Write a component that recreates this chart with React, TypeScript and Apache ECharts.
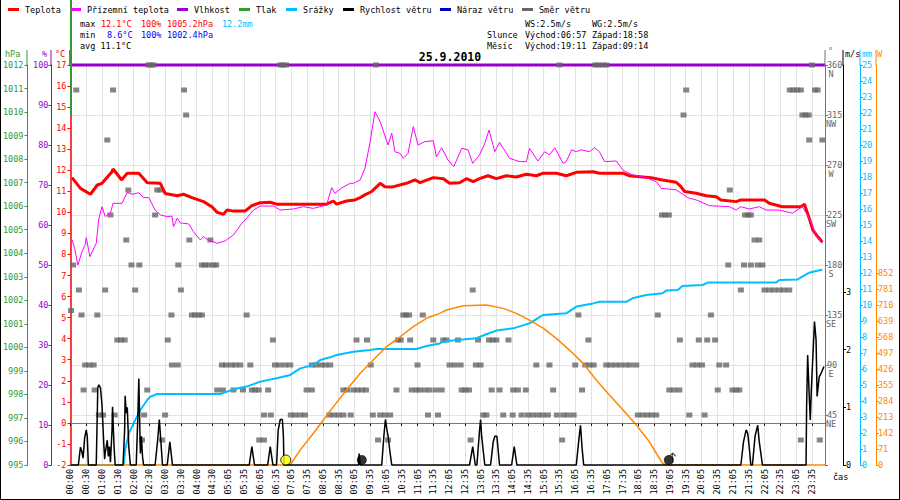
import React, { useEffect, useRef } from 'react';
import * as echarts from 'echarts';

const FONT = '"DejaVu Sans Mono", "Liberation Mono", monospace';

// ---------- data ----------
const xLabels = ["00:00","00:30","01:00","01:30","02:00","02:30","03:00","03:30","04:00","04:30",
  "05:05","05:35","06:05","06:35","07:05","07:35","08:05","08:35","09:05","09:35","10:05","10:35",
  "11:05","11:35","12:05","12:35","13:05","13:35","14:05","14:35","15:05","15:35","16:05","16:35",
  "17:05","17:35","18:05","18:35","19:05","19:35","20:05","20:35","21:05","21:35","22:05","22:35",
  "23:05","23:35"];

// temperature [minute, °C]
const temperature = [[3,11.65],[19,11.14],[38,10.86],[51,11.3],[60,11.38],[79,11.93],[81,12.06],[89,11.81],[97,11.54],[108,11.86],[130,11.86],[146,11.41],[171,11.38],[180,10.9],[203,10.79],[215,10.86],[231,10.70],[253,10.51],[269,10.27],[279,10.0],[291,9.91],[298,10.11],[310,10.06],[332,10.06],[345,10.32],[361,10.46],[380,10.48],[392,10.39],[487,10.39],[500,10.54],[506,10.39],[525,10.54],[541,10.59],[551,10.70],[560,10.83],[573,10.99],[589,11.38],[598,11.22],[611,11.2],[639,11.38],[655,11.54],[665,11.41],[690,11.65],[709,11.6],[721,11.38],[740,11.41],[753,11.6],[766,11.46],[778,11.6],[794,11.74],[810,11.6],[829,11.74],[848,11.68],[867,11.81],[886,11.74],[899,11.86],[924,11.86],[943,11.74],[962,11.9],[994,11.93],[1006,11.86],[1051,11.86],[1063,11.74],[1104,11.65],[1126,11.54],[1152,11.43],[1161,11.22],[1168,10.99],[1190,10.91],[1209,10.79],[1228,10.74],[1237,10.59],[1266,10.51],[1275,10.59],[1320,10.59],[1329,10.43],[1354,10.27],[1389,10.27],[1396,10.39],[1405,9.72],[1412,9.16],[1421,8.85],[1430,8.58]];

// feels-like temperature [minute, °C]
const feelsLike = [[3,8.69],[8,8.29],[14,7.5],[22,8.13],[28,8.48],[30,8.8],[37,7.9],[49,8.53],[54,9.72],[60,10.27],[66,9.8],[76,9.96],[81,10.43],[98,10.43],[108,10.95],[117,10.86],[130,10.93],[139,10.70],[149,10.7],[161,10.11],[171,9.88],[184,9.8],[193,9.82],[196,9.32],[203,9.72],[209,9.5],[225,9.45],[234,9.08],[247,8.69],[253,8.85],[260,8.72],[279,8.53],[294,8.64],[310,8.93],[326,9.48],[335,9.72],[348,10.11],[361,10.3],[386,10.3],[399,10.11],[424,10.16],[443,10.27],[462,10.19],[487,10.35],[497,11.17],[503,10.9],[516,11.17],[532,11.38],[538,11.38],[551,11.54],[560,12.09],[570,13.36],[579,14.78],[589,14.31],[604,13.2],[611,13.76],[617,12.88],[627,12.8],[633,12.57],[642,12.8],[652,14.07],[661,13.2],[674,13.36],[690,13.4],[696,12.64],[706,13.07],[718,12.49],[729,12.17],[744,13.04],[756,12.97],[765,12.33],[778,12.73],[788,13.28],[796,13.91],[807,12.88],[816,13.33],[835,12.57],[854,12.41],[867,12.41],[873,13.04],[889,12.44],[902,12.88],[911,12.73],[921,13.07],[937,12.33],[943,12.41],[953,12.97],[962,12.88],[971,12.97],[987,12.88],[997,13.07],[1006,12.88],[1016,12.41],[1038,12.44],[1051,12.0],[1069,11.78],[1095,11.65],[1114,11.46],[1124,11.14],[1152,11.07],[1174,10.7],[1190,10.59],[1215,10.32],[1253,10.27],[1266,10.11],[1275,10.27],[1291,10.16],[1310,10.27],[1323,10.11],[1348,10.11],[1373,9.96],[1392,10.27],[1405,9.72],[1418,8.93],[1430,8.53]];

// humidity [minute, %]
const humidity = [[0,100],[1435,100]];

// cumulative precipitation [minute, mm]
const precipitation = [[0,0],[101,0],[104,0.94],[111,1.98],[120,2.6],[133,3.44],[146,4.06],[152,4.27],[165,4.44],[285,4.44],[310,4.73],[335,4.9],[361,5.21],[392,5.42],[418,5.63],[437,6.04],[462,6.25],[475,6.56],[494,6.73],[506,6.88],[538,7.08],[570,7.19],[582,7.25],[658,7.25],[677,7.44],[702,7.6],[709,7.71],[734,7.81],[772,7.92],[792,8.19],[810,8.4],[842,8.54],[873,8.85],[899,9.38],[943,9.48],[962,9.9],[994,10.1],[1006,10.2],[1057,10.2],[1069,10.42],[1095,10.63],[1126,10.73],[1133,10.9],[1155,10.94],[1164,11.19],[1202,11.25],[1212,11.4],[1342,11.4],[1348,11.56],[1383,11.6],[1392,11.77],[1405,12.02],[1418,12.13],[1430,12.2]];

// solar radiation [minute, W]
const solar = [[0,0],[418,0],[437,67],[462,141],[481,200],[500,259],[525,333],[551,407],[576,466],[601,525],[627,569],[652,614],[677,651],[702,673],[715,688],[747,707],[791,710],[823,695],[848,673],[873,643],[899,607],[924,562],[949,510],[975,451],[1000,377],[1025,311],[1051,244],[1076,178],[1101,103],[1120,30],[1126,8],[1133,0],[1435,0]];

// wind speed [minute, m/s]
const windSpeed = [[0,0],[15,0],[19,0.31],[22,0.22],[24,0.12],[27,0.47],[30,0.61],[32,0.49],[34,0],
  [49,0],[52,1.35],[54,1.39],[57,1.34],[60,1.04],[63,0.43],[65,0.1],[66,0.2],[70,0.43],[72,0.15],[74,0.32],[76,0.05],[79,0.6],[80,1.01],[83,0.3],[85,0],
  [100,0],[103,0.6],[104,1.2],[106,0.9],[108,1.0],[111,0.3],[113,0.1],[114,0],
  [125,0],[128,0.8],[130,1.5],[132,0.6],[133,0.2],[135,0.5],[137,0.15],[139,0],
  [161,0],[166,0.45],[169,0.79],[172,0.4],[175,0],[184,0],[189,0.4],[194,0],
  [340,0],[345,0.32],[350,0],[375,0],[380,0.32],[385,0],
  [392,0],[395,0.6],[399,0.79],[403,0.79],[405,0.5],[406,0],
  [548,0],[549,0.2],[551,0],
  [592,0],[596,0.5],[599,0.79],[602,0.6],[604,0.5],[608,0.2],[611,0],
  [759,0],[765,0.32],[770,0],[773,0],[778,0.6],[780,0.79],[782,0.5],[788,0],
  [799,0],[804,0.4],[807,0.5],[811,0.5],[813,0.3],[816,0],[839,0],[844,0.32],[849,0],
  [962,0],[967,0.45],[970,0.69],[973,0.3],[976,0],
  [1275,0],[1280,0.4],[1285,0.61],[1288,0.55],[1291,0.3],[1294,0],
  [1297,0],[1302,0.5],[1307,0.69],[1310,0.4],[1316,0],
  [1399,0],[1400,1.0],[1402,1.91],[1405,1.2],[1407,0.78],[1409,1.3],[1412,1.9],[1415,2.49],[1418,2.17],[1420,1.19],[1424,1.53],[1428,1.6],[1433,1.71]];

// wind direction samples per direction (minutes)
const dir360 = [148,153,158,399,404,410,581,930,998,1004,1012,1019,1410];
const dir337 = [11,81,216,1171,1368,1375,1382,1389,1416,1421];
const dir315 = [220,1166,1392,1398,1404];
const dir292 = [70,1405,1430];
const dir247 = [110,165,171,1254];
const dir225 = [76,161,1125,1131,1138,1283,1289,1294];
const dir202 = [106,226,266,1301,1310];
const dir180 = [5,116,131,205,250,256,263,272,277,1251,1281,1294,1307,1316];
const dir157 = [16,66,123,210,765,1275,1320,1329,1338,1348,1357,1367];
const dir139 = [1];
const dir135 = [21,51,192,231,237,244,250,335,633,638,644,670,966,1117,1218];
const dir112 = [89,96,103,185,385,544,564,623,628,646,690,709,715,737,775,796,803,810,833,985,1159,1195,1211,1226];
const dir90 = [28,36,44,193,204,288,296,306,314,323,342,389,397,408,418,459,467,477,485,494,571,660,721,731,742,771,780,886,911,960,979,987,995,1019,1027,1037,1046,1056,1065,1076,1183,1192,1201,1234,1247];
const dir67 = [25,46,146,279,290,310,328,345,351,358,376,449,459,519,526,538,546,554,562,620,649,658,664,674,683,695,706,744,751,758,801,816,842,851,866,918,973,1139,1148,1158,1231,1259,1266,1272];
const dir45 = [54,62,84,140,180,368,381,419,427,437,446,492,501,510,519,533,575,589,598,608,680,699,785,791,823,841,858,870,879,889,898,908,925,937,946,957,1079,1088,1097,1105,1114,1177,1206];
const dir22 = [136,174,359,368,585,604,761,935,1389,1425];

const dirRows: [number, number[]][] = [
  [360, dir360],[337.5, dir337],[315, dir315],[292.5, dir292],[247.5, dir247],[225, dir225],
  [202.5, dir202],[180, dir180],[157.5, dir157],[139, dir139],[135, dir135],[112.5, dir112],
  [90, dir90],[67.5, dir67],[45, dir45],[22.5, dir22]];

// sun / moon events [minute]
const sunrise = [417];
const darkEvents = [554, 1138]; // moon set 09:14, sun set 18:58
const moonrise = [1151];

const dirTickNames = ["", "NE", "E", "SE", "S", "SW", "W", "NW", "N"];
const windTicks = [0, 1, 2, 3];
const solarTicks = [0, 71, 142, 213, 284, 355, 426, 497, 568, 639, 710, 781, 852];

const legendNames = ["Teplota","Přízemní teplota","Vlhkost","Tlak","Srážky","Rychlost větru","Náraz větru","Směr větru"];
const legendColors = ["#ff0000","#ff00ff","#9900cc","#339933","#00bfff","#000000","#0000cc","#666666"];

const statsRows = [
  [["max","#000000",80],["12.1°C","#ff0000",101],["100%","#ff0000",141],["1005.2hPa","#ff0000",167],["12.2mm","#00bfff",222],["WS:2.5m/s","#000000",525],["WG:2.5m/s","#000000",592]],
  [["min","#000000",80],["8.6°C","#0000ff",107],["100%","#0000ff",141],["1002.4hPa","#0000ff",167],["Slunce","#000000",487],["Východ:06:57","#000000",525],["Západ:18:58","#000000",592]],
  [["avg 11.1°C","#000000",80],["Měsíc","#000000",487],["Východ:19:11","#000000",525],["Západ:09:14","#000000",592]],
];

// ---------- helpers ----------
const txt = (text: string, x: number, y: number, fill: string, size = 8.5, align = 'left', bold = false) => ({
  type: 'text', x, y, silent: true, z: 100,
  style: { text, fill, font: `${bold ? 'bold ' : ''}${size}px ${FONT}`, textAlign: align, textVerticalAlign: 'middle' },
});
const vline = (x: number, y1: number, y2: number, color: string, w = 1) => ({
  type: 'line', silent: true, z: 100, shape: { x1: x, y1, x2: x, y2 }, style: { stroke: color, lineWidth: w },
});

function buildOption() {
  const dirPoints: number[][] = [];
  dirRows.forEach(([deg, mins]) => mins.forEach((m) => dirPoints.push([m, deg])));

  const graphics: any[] = [];
  // legend
  let lx = 8;
  legendNames.forEach((n, i) => {
    graphics.push({ type: 'rect', silent: true, shape: { x: lx, y: 8, width: 11, height: 3 }, style: { fill: legendColors[i] } });
    graphics.push(txt(n, lx + 17, 9.5, '#000000'));
    lx = lx + 17 + n.length * 5 + 10;
  });
  statsRows.forEach((row, ri) => {
    row.forEach(([t, c, x]) => graphics.push(txt(t as string, x as number, 23.5 + ri * 11, c as string)));
  });
  graphics.push(txt('25.9.2010', 450, 57, '#000000', 11.5, 'center', true));
  // axis headers
  graphics.push(txt('hPa', 5, 54, '#339933'));
  graphics.push(txt('%', 42, 54, '#9900cc'));
  graphics.push(txt('°C', 55, 54, '#ff0000'));
  graphics.push(txt('°', 828, 51, '#666666'));
  graphics.push(txt('m/s', 845, 54, '#000000'));
  graphics.push(txt('mm', 862, 54, '#00bfff'));
  graphics.push(txt('W', 877, 54, '#ff8800'));
  graphics.push(txt('čas', 833, 477, '#000000'));
  // axis line extensions above the plot
  graphics.push(vline(27, 50, 66, '#339933'));
  graphics.push(vline(51, 50, 66, '#9900cc'));
  graphics.push(vline(70, 50, 66, '#ff0000', 1.5));
  graphics.push(vline(825, 50, 66, '#777777'));
  graphics.push(vline(843, 50, 66, '#000000'));
  graphics.push(vline(860, 50, 66, '#00bfff'));
  graphics.push(vline(876, 50, 66, '#ff8800'));
  graphics.push(vline(71, 0, 116, '#339933', 2));
  // frame
  graphics.push({ type: 'rect', silent: true, z: 100, shape: { x: 0.5, y: -2, width: 899, height: 501.5 }, style: { fill: 'none', stroke: '#000000', lineWidth: 1 } });

  const lab = (color: string, margin = 4, extra: any = {}) => ({ color, margin, fontSize: 8.5, fontFamily: FONT, ...extra });
  const tick = (color: string, extra: any = {}) => ({ show: true, length: 3, lineStyle: { color }, ...extra });
  const plain = (v: number) => String(v);

  return {
    animation: false,
    backgroundColor: '#ffffff',
    grid: { left: 70, right: 75, top: 65, bottom: 35, containLabel: false },
    graphic: graphics,
    xAxis: {
      type: 'value', min: 0, max: 1435, interval: 30,
      axisLine: { show: true, lineStyle: { color: '#000000' } },
      axisTick: tick('#000000'),
      axisLabel: lab('#000000', 4, {
        rotate: 90, showMaxLabel: false,
        formatter: (v: number) => (v % 30 === 0 && xLabels[v / 30]) ? xLabels[v / 30] : '',
      }),
      splitLine: { show: true, lineStyle: { color: '#e2e2e2', width: 1 } },
    },
    yAxis: [
      { type: 'value', position: 'left', offset: 0, min: -2, max: 17, interval: 1,
        axisLine: { show: true, lineStyle: { color: '#ff0000', width: 1.5 } }, axisTick: tick('#ff0000'),
        axisLabel: lab('#ff0000', 4, { formatter: plain }), splitLine: { show: false } },
      { type: 'value', position: 'left', offset: 19, min: 0, max: 100, interval: 10,
        axisLine: { show: true, lineStyle: { color: '#9900cc' } }, axisTick: tick('#9900cc'),
        axisLabel: lab('#9900cc', 3, { formatter: plain }), splitLine: { show: false } },
      { type: 'value', position: 'left', offset: 43, min: 995, max: 1012, interval: 1,
        axisLine: { show: true, lineStyle: { color: '#339933' } }, axisTick: tick('#339933'),
        axisLabel: lab('#339933', 4, { formatter: plain }), splitLine: { show: false } },
      { type: 'value', position: 'right', offset: 0, min: 0, max: 360, interval: 45,
        axisLine: { show: true, lineStyle: { color: '#777777' } }, axisTick: tick('#777777'),
        axisLabel: lab('#666666', 2, { formatter: (v: number) => (v === 0 ? '' : String(v)) }),
        splitLine: { show: true, lineStyle: { color: '#e2e2e2' } } },
      { type: 'value', position: 'right', offset: 0, min: 0, max: 360, interval: 45,
        axisLine: { show: false }, axisTick: { show: false },
        axisLabel: lab('#666666', 6, { align: 'center', verticalAlign: 'top', lineHeight: 17,
          formatter: (v: number) => dirTickNames[Math.round(v / 45)] || '' }),
        splitLine: { show: false } },
      { type: 'value', position: 'right', offset: 18, min: 0, max: 6.94,
        axisLine: { show: true, lineStyle: { color: '#000000' } },
        axisTick: tick('#000000', { customValues: windTicks }),
        axisLabel: lab('#000000', 3, { customValues: windTicks, formatter: plain }), splitLine: { show: false } },
      { type: 'value', position: 'right', offset: 35, min: 0, max: 25, interval: 1,
        axisLine: { show: true, lineStyle: { color: '#00bfff' } }, axisTick: tick('#00bfff'),
        axisLabel: lab('#00bfff', 2, { formatter: plain }), splitLine: { show: false } },
      { type: 'value', position: 'right', offset: 51, min: 0, max: 1775,
        axisLine: { show: true, lineStyle: { color: '#ff8800' } },
        axisTick: tick('#ff8800', { customValues: solarTicks }),
        axisLabel: lab('#ff8800', 2, { customValues: solarTicks, formatter: plain }), splitLine: { show: false } },
    ],
    series: [
      { name: 'Vlhkost', type: 'line', yAxisIndex: 1, data: humidity, showSymbol: false, silent: true, clip: false,
        lineStyle: { color: '#9900cc', width: 3 }, z: 2 },
      { name: 'Směr větru', type: 'scatter', yAxisIndex: 3, data: dirPoints, symbol: 'rect', symbolSize: [6, 5],
        silent: true, clip: false, itemStyle: { color: '#666666' }, z: 3 },
      { name: 'Srážky', type: 'line', yAxisIndex: 6, data: precipitation, showSymbol: false, silent: true,
        lineStyle: { color: '#00bfff', width: 2 }, z: 4 },
      { name: 'Sluneční záření', type: 'line', yAxisIndex: 7, data: solar, showSymbol: false, silent: true,
        lineStyle: { color: '#ff8800', width: 1.5 }, z: 4 },
      { name: 'Rychlost větru', type: 'line', yAxisIndex: 5, data: windSpeed, showSymbol: false, silent: true, clip: false,
        lineStyle: { color: '#000000', width: 1.5 }, z: 5 },
      { name: 'Teplota', type: 'line', yAxisIndex: 0, data: temperature, showSymbol: false, silent: true,
        lineStyle: { color: '#ff0000', width: 3 }, z: 6,
        markLine: { silent: true, symbol: 'none', label: { show: false }, animation: false,
          lineStyle: { color: '#777777', type: 'solid', width: 1 }, data: [{ yAxis: 0 }] } },
      { name: 'Přízemní teplota', type: 'line', yAxisIndex: 0, data: feelsLike, showSymbol: false, silent: true,
        lineStyle: { color: '#ff00ff', width: 1 }, z: 7 },
      { name: 'Východ slunce', type: 'scatter', yAxisIndex: 5, data: sunrise.map((m) => [m, 0]), symbol: 'circle',
        symbolSize: 10, symbolOffset: [-4, -5], clip: false, silent: true,
        itemStyle: { color: '#ffff00', borderColor: '#000000', borderWidth: 1 }, z: 9 },
      { name: 'Západ', type: 'scatter', yAxisIndex: 5, data: darkEvents.map((m) => [m, 0]), symbol: 'circle',
        symbolSize: 10, symbolOffset: [0, -5], clip: false, silent: true,
        itemStyle: { color: '#000000' }, z: 9 },
      { name: 'Východ měsíce', type: 'scatter', yAxisIndex: 5, data: moonrise.map((m) => [m, 0]),
        symbol: 'path://M5,0 L5,12 M5,0 L2,4 M5,0 L8,4', symbolSize: [6, 10], symbolOffset: [-3, -7], clip: false, silent: true,
        itemStyle: { color: 'none', borderColor: '#000000', borderWidth: 1 }, z: 9 },
    ],
  };
}

export default function App() {
  const ref = useRef<HTMLDivElement>(null);
  useEffect(() => {
    document.body.style.margin = '0';
    const chart = echarts.init(ref.current as HTMLDivElement, null, { renderer: 'svg' });
    chart.setOption(buildOption() as any);
    return () => chart.dispose();
  }, []);
  return <div ref={ref} style={{ position: 'absolute', left: 0, top: 0, width: 900, height: 500 }} />;
}
